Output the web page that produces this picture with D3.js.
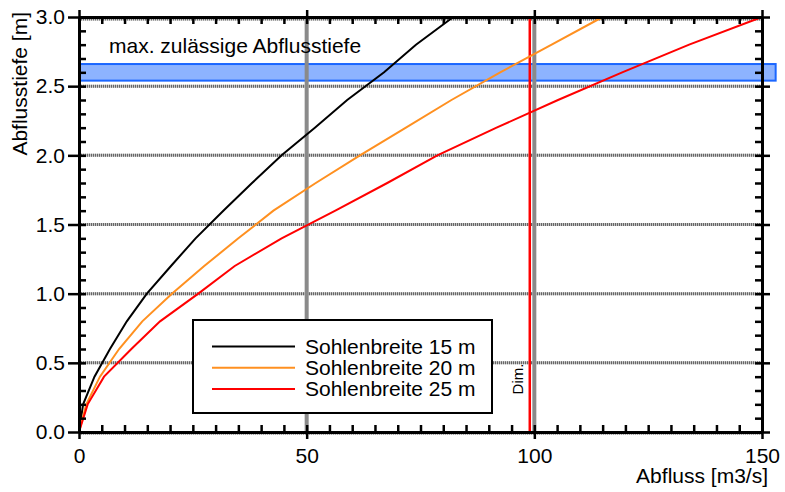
<!DOCTYPE html>
<html>
<head>
<meta charset="utf-8">
<script src="https://cdn.jsdelivr.net/npm/d3@7"></script>
<style>
html,body{margin:0;padding:0;background:#fff;}
svg{display:block;font-family:"Liberation Sans",Arial,sans-serif;}
</style>
</head>
<body>
<svg id="chart" width="785" height="492"></svg>
<script>
// ---- data ----
const depth  = [0, 0.2, 0.4, 0.6, 0.8, 1.0, 1.2, 1.4, 1.6, 1.8, 2.0, 2.2, 2.4, 2.6, 2.8, 3.0];
const flow15 = [0, 0.9, 3.4, 6.8, 10.5, 14.9, 20.2, 25.6, 31.7, 38.0, 44.5, 51.8, 58.9, 67.0, 74.0, 82.2];
const flow20 = [0, 1.6, 4.6, 8.8, 13.9, 20.4, 27.5, 35.0, 42.7, 52.0, 61.7, 71.8, 81.8, 92.5, 103.8, 115.0];
const flow25 = [0, 1.9, 5.5, 11.5, 17.8, 26.2, 34.2, 44.5, 56.3, 67.7, 78.7, 91.7, 105.2, 119.3, 134.0, 150.0];
const seriesNames = ["Sohlenbreite 15 m", "Sohlenbreite 20 m", "Sohlenbreite 25 m"];
const seriesColors = ["#000000", "#ff9020", "#ff0000"];
const xTicks = [0, 50, 100, 150];
const yTicks = [0, 0.5, 1.0, 1.5, 2.0, 2.5, 3.0];
const xMinor = d3.range(0, 151, 5);
const yMinor = d3.range(0, 31, 1).map(d => d / 10);
const xGrid = [50, 100];
const yGrid = [0, 0.5, 1.0, 1.5, 2.0, 2.5, 3.0];
const bandLow = 2.54, bandHigh = 2.66, bandEnd = 153;
const bandLabel = "max. zulässige Abflusstiefe";
const dimValue = 99;
const dimLabel = "Dim.";
const xTitle = "Abfluss [m3/s]";
const yTitle = "Abflusstiefe [m]";

// ---- scales ----
const x = d3.scaleLinear().domain([0, 150]).range([79, 762]);
const y = d3.scaleLinear().domain([0, 3]).range([432, 17]);

const svg = d3.select("#chart");
const FS = 21;

// band
svg.append("rect")
  .attr("x", x(0)).attr("y", y(bandHigh))
  .attr("width", x(bandEnd) - x(0)).attr("height", y(bandLow) - y(bandHigh))
  .attr("fill", "#8db3ff").attr("stroke", "#1a66ff").attr("stroke-width", 2);

// grid
const gGrid = svg.append("g");
yGrid.forEach(v => {
  const yy = y(v) + (v === 3 ? 2 : (v === 0 ? 1 : 0));
  gGrid.append("line").attr("x1", x(0)).attr("x2", x(150)).attr("y1", yy).attr("y2", yy)
    .attr("stroke", "#c4c4c4").attr("stroke-width", 3);
  gGrid.append("line").attr("x1", x(0)).attr("x2", x(150)).attr("y1", yy).attr("y2", yy)
    .attr("stroke", "#666").attr("stroke-width", 3).attr("stroke-dasharray", "1 1");
});
xGrid.forEach(v => {
  gGrid.append("line").attr("x1", x(v)).attr("x2", x(v)).attr("y1", y(3)).attr("y2", y(0))
    .attr("stroke", "#8a8a8a").attr("stroke-width", 4);
});

// band label
svg.append("text").attr("x", 109).attr("y", 53).attr("font-size", FS).text(bandLabel);

// dim line
svg.append("line").attr("x1", x(dimValue)).attr("x2", x(dimValue)).attr("y1", y(3)).attr("y2", y(0))
  .attr("stroke", "#ff0000").attr("stroke-width", 2.5);
svg.append("text").attr("transform", `translate(${x(dimValue) - 7},379) rotate(-90)`)
  .attr("text-anchor", "middle").attr("font-size", 15).text(dimLabel);

// curves
const flows = [flow15, flow20, flow25];
const line = d3.line().x(d => x(d[0])).y(d => y(d[1]));
flows.forEach((f, i) => {
  svg.append("path").datum(f.map((q, j) => [q, depth[j]]))
    .attr("d", line).attr("fill", "none").attr("stroke", seriesColors[i]).attr("stroke-width", 2);
});

// axes
function styleAxis(g, w) {
  g.select(".domain").attr("stroke", "#000").attr("stroke-width", 3);
  g.selectAll(".tick line").attr("stroke", "#000").attr("stroke-width", w);
  g.selectAll("text").attr("font-size", FS).attr("font-family", "Liberation Sans, Arial, sans-serif").attr("fill", "#000");
}
const fmt = d3.format(".1f");
// minor (inward) ticks
svg.append("g").attr("transform", `translate(0,${y(0)})`)
  .call(d3.axisBottom(x).tickValues(xMinor).tickSizeInner(-7).tickSizeOuter(0).tickFormat(""))
  .call(g => styleAxis(g, 2.5));
svg.append("g").attr("transform", `translate(0,${y(3)})`)
  .call(d3.axisTop(x).tickValues(xMinor).tickSizeInner(-7).tickSizeOuter(0).tickFormat(""))
  .call(g => styleAxis(g, 2.5));
svg.append("g").attr("transform", `translate(${x(0)},0)`)
  .call(d3.axisLeft(y).tickValues(yMinor).tickSizeInner(-7).tickSizeOuter(0).tickFormat(""))
  .call(g => styleAxis(g, 2.5));
svg.append("g").attr("transform", `translate(${x(150)},0)`)
  .call(d3.axisRight(y).tickValues(yMinor).tickSizeInner(-7).tickSizeOuter(0).tickFormat(""))
  .call(g => styleAxis(g, 2.5));
// major (outward) ticks with labels
svg.append("g").attr("transform", `translate(0,${y(0)})`)
  .call(d3.axisBottom(x).tickValues(xTicks).tickSizeInner(7).tickSizeOuter(0).tickPadding(9))
  .call(g => styleAxis(g, 2.5));
svg.append("g").attr("transform", `translate(0,${y(3)})`)
  .call(d3.axisTop(x).tickValues(xTicks).tickSizeInner(7).tickSizeOuter(0).tickFormat(""))
  .call(g => styleAxis(g, 2.5));
svg.append("g").attr("transform", `translate(${x(0)},0)`)
  .call(d3.axisLeft(y).tickValues(yTicks).tickSizeInner(11).tickSizeOuter(0).tickPadding(3).tickFormat(fmt))
  .call(g => styleAxis(g, 2.5));
svg.append("g").attr("transform", `translate(${x(150)},0)`)
  .call(d3.axisRight(y).tickValues(yTicks).tickSizeInner(8).tickSizeOuter(0).tickFormat(""))
  .call(g => styleAxis(g, 2.5));

// axis titles
svg.append("text").attr("x", 768).attr("y", 483).attr("text-anchor", "end").attr("font-size", FS).text(xTitle);
svg.append("text").attr("transform", "translate(27,12) rotate(-90)").attr("text-anchor", "end")
  .attr("font-size", FS).text(yTitle);

// legend
const leg = svg.append("g");
leg.append("rect").attr("x", 193).attr("y", 320).attr("width", 299).attr("height", 93)
  .attr("fill", "#fff").attr("stroke", "#000").attr("stroke-width", 2);
seriesNames.forEach((n, i) => {
  const yy = 346.5 + i * 21.3;
  leg.append("line").attr("x1", 212).attr("x2", 295).attr("y1", yy).attr("y2", yy)
    .attr("stroke", seriesColors[i]).attr("stroke-width", 2);
  leg.append("text").attr("x", 305).attr("y", yy + 7).attr("font-size", FS).text(n);
});
</script>
</body>
</html>
